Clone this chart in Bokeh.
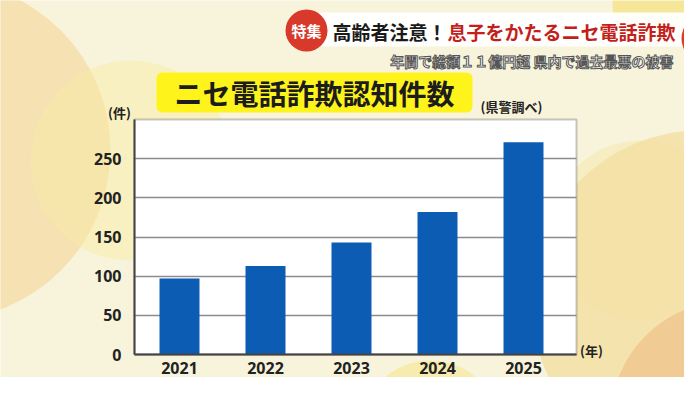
from bokeh.plotting import figure
from bokeh.models import Range1d, FixedTicker, BoxAnnotation, Label
from bokeh.embed import file_html
from bokeh.resources import INLINE

# ---- data ----
years = ["2021", "2022", "2023", "2024", "2025"]
counts = [97, 113, 143, 182, 271]
y_ticks = [0, 50, 100, 150, 200, 250]
y_max = 300

title_text = "ニセ電話詐欺認知件数"
source_text = "(県警調べ)"
y_unit = "(件)"
x_unit = "(年)"
banner_tag = "特集"
banner_black = "高齢者注意！"
banner_red = "息子をかたるニセ電話詐欺"
subtitle = "年間で総額１１億円超 県内で過去最悪の被害"

# ---- layout (canvas px); the frame covers the whole canvas ----
W, H = 684, 377
CL, CT, CR, CB = 134, 119, 576, 354      # chart box edges
C0, STEP = 179, 86                        # first bar centre, px per category
JP = "Noto Sans CJK JP"
NUM = "Noto Sans"


def xd(X):
    return (X - C0) / STEP


def yd(Y):
    return (CB - Y) * y_max / (CB - CT)


idx = list(range(len(years)))

p = figure(width=W, height=H, output_backend="svg", toolbar_location=None,
           x_range=Range1d(xd(0), xd(W)), y_range=Range1d(yd(H), yd(0)),
           min_border=0)
p.border_fill_color = "#f8f4dc"
p.background_fill_color = "#f8f4dc"
p.outline_line_color = None


def box(x0, y0, x1, y1, color, alpha=1.0, radius=0, level="image", **kw):
    if radius:
        kw["border_radius"] = radius
    p.add_layout(BoxAnnotation(left=xd(x0), right=xd(x1), top=yd(y0), bottom=yd(y1),
                               fill_color=color, fill_alpha=alpha,
                               line_color=kw.pop("line_color", None), level=level, **kw))


def circle(cx, cy, r, color, alpha=1.0, level="image"):
    box(cx - r, cy - r, cx + r, cy + r, color, alpha, radius=r, level=level)


def label(X, Y, text, size, color, align="center", font=JP, **kw):
    p.add_layout(Label(x=xd(X), y=yd(Y), text=text,
                       text_font=font, text_font_style="bold", text_font_size=size,
                       text_color=color, text_align=align, text_baseline="middle", **kw))


# background bokeh blobs
circle(-60, 150, 170, "#f4d9a0", 0.7)
circle(130, 160, 100, "#f8eca4", 0.5)
circle(430, 430, 70, "#f6e79a", 0.7)
circle(640, 230, 90, "#f6e8b2", 0.6)
circle(700, 300, 170, "#f5dfa4", 0.85)
circle(730, 420, 120, "#efc78f", 0.85)
circle(650, 6, 38, "#f3d547", 0.45)

# white chart box (data-space 0..y_max)
p.add_layout(BoxAnnotation(left=xd(CL), right=xd(CR), bottom=0, top=y_max,
                           fill_color="#ffffff", fill_alpha=1.0,
                           line_color="#444444", line_width=2, level="image"))

# bars
p.vbar(x=idx, top=counts, width=0.465, bottom=0, fill_color="#0b5cb2", line_color=None)

# axes at the chart box edges
p.xaxis.fixed_location = 0
p.xaxis.bounds = (xd(CL), xd(CR))
p.yaxis.fixed_location = xd(CL)
p.yaxis.bounds = (0, y_max)
p.xaxis.ticker = FixedTicker(ticks=idx)
p.xaxis.major_label_overrides = {i: y for i, y in zip(idx, years)}
p.yaxis.ticker = FixedTicker(ticks=y_ticks)
for ax in (p.xaxis[0], p.yaxis[0]):
    ax.major_tick_line_color = None
    ax.minor_tick_line_color = None
    ax.axis_line_color = "#444444"
    ax.axis_line_width = 2
    ax.major_label_text_font = NUM
    ax.major_label_text_font_style = "bold"
    ax.major_label_text_font_size = "16px"
    ax.major_label_text_color = "#222222"
p.xaxis.major_label_standoff = 1
p.yaxis.major_label_standoff = 7

p.xgrid.grid_line_color = None
p.ygrid.ticker = FixedTicker(ticks=y_ticks)
p.ygrid.cross_bounds = (xd(CL), xd(CR))
p.ygrid.grid_line_color = "#8c8c8c"
p.ygrid.grid_line_width = 1.5

# banner
box(318, 12, 684, 46, "#ffffff", 0.93, level="annotation")
circle(705, 38, 24, "#dd3b24", 1.0, level="annotation")
circle(306, 30, 21, "#d8392a", 1.0, level="annotation")
label(306, 30, banner_tag, "15px", "#ffffff")
label(332, 31, banner_black, "19px", "#1a1a1a", align="left")
label(447, 31, banner_red, "19px", "#c31f1c", align="left")

# title box
box(156, 72, 472, 112, "#fff31c", 1.0, radius=6, level="annotation")
label(314, 92, title_text, "28px", "#1c1c1c")

label(511, 106, source_text, "13px", "#222222")
label(119, 112, y_unit, "13px", "#222222")
label(591, 350, x_unit, "13px", "#222222")

label(673, 60, subtitle, "14px", "#ffffff", align="right",
      text_outline_color="#555555")

open("out.html", "w").write(file_html(p, INLINE))
